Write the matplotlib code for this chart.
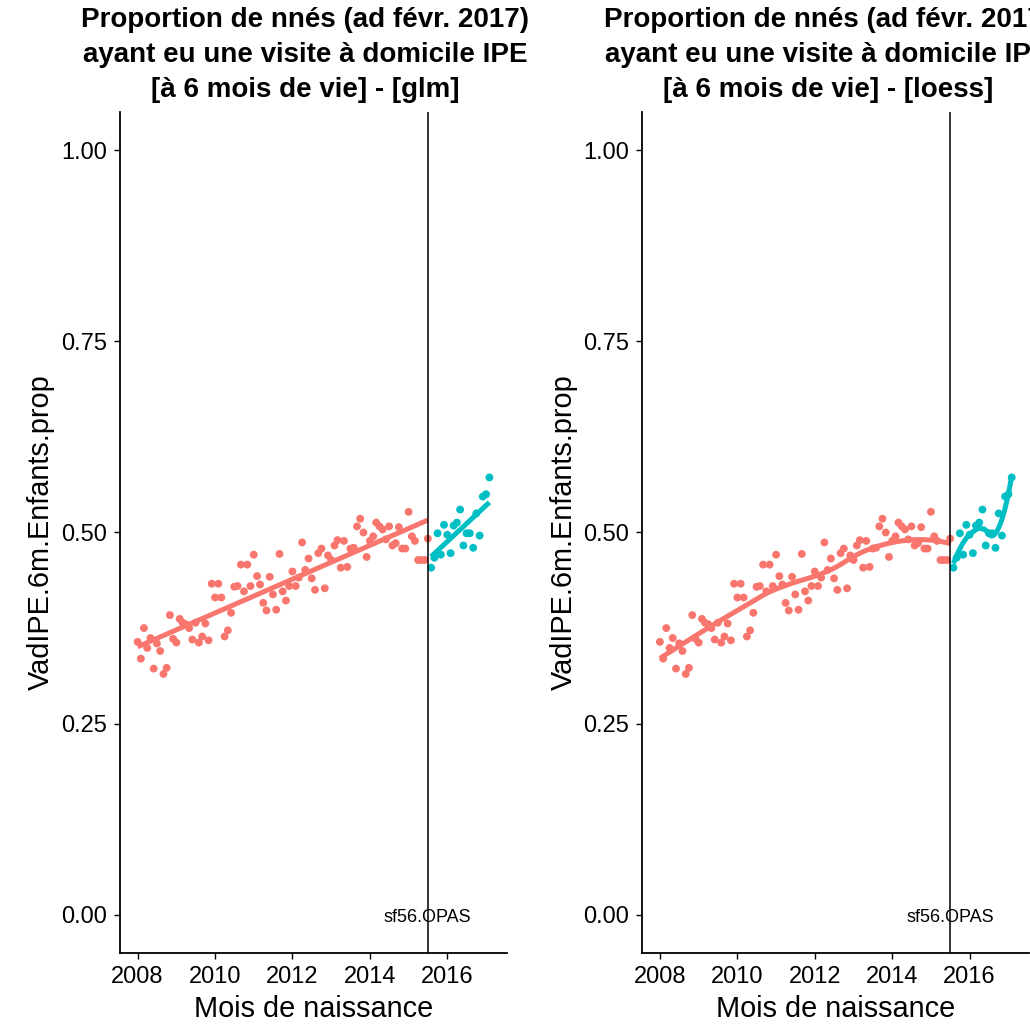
import numpy as np
import pandas as pd
import matplotlib
matplotlib.use('Agg')
import matplotlib.pyplot as plt
import matplotlib.dates as mdates

plt.rcParams['font.family'] = ['Liberation Sans', 'DejaVu Sans']

# proportions mensuelles, avant / après la coupure
avant = [0.357, 0.335, 0.375, 0.349, 0.362, 0.322, 0.355, 0.345, 0.315, 0.323,
         0.392, 0.361, 0.356, 0.387, 0.382, 0.380, 0.375, 0.360, 0.382, 0.356,
         0.364, 0.381, 0.359, 0.433, 0.415, 0.433, 0.415, 0.364, 0.372, 0.395,
         0.429, 0.430, 0.458, 0.423, 0.458, 0.430, 0.471, 0.443, 0.432, 0.408,
         0.398, 0.442, 0.419, 0.399, 0.472, 0.423, 0.411, 0.430, 0.449, 0.430,
         0.441, 0.487, 0.451, 0.466, 0.440, 0.425, 0.473, 0.479, 0.427, 0.470,
         0.464, 0.483, 0.490, 0.454, 0.489, 0.455, 0.479, 0.480, 0.508, 0.518,
         0.500, 0.468, 0.489, 0.495, 0.513, 0.508, 0.504, 0.491, 0.508, 0.483,
         0.486, 0.507, 0.479, 0.479, 0.527, 0.495, 0.489, 0.464, 0.464, 0.464,
         0.492]
apres = [0.454, 0.467, 0.499, 0.471, 0.510, 0.497, 0.473, 0.509, 0.513, 0.530,
         0.483, 0.499, 0.499, 0.480, 0.525, 0.496, 0.547, 0.550, 0.572]

mois_avant = pd.date_range('2008-01-01', periods=len(avant), freq='MS')
mois_apres = pd.date_range('2015-08-01', periods=len(apres), freq='MS')
coupure = pd.Timestamp('2015-07-01')

titres = ["Proportion de nnés (ad févr. 2017)\nayant eu une visite à domicile IPE\n[à 6 mois de vie] - [glm]",
          "Proportion de nnés (ad févr. 2017)\nayant eu une visite à domicile IPE\n[à 6 mois de vie] - [loess]"]
methodes = ['glm', 'loess']

ROUGE = '#F8766D'
CYAN = '#00BFC4'


def loess(x, y, xs, span=0.75):
    x = np.asarray(x, float)
    y = np.asarray(y, float)
    q = int(np.floor(len(x) * span))
    out = []
    for x0 in xs:
        d = np.abs(x - x0)
        h = np.sort(d)[q - 1]
        w = np.clip(1 - (d / h) ** 3, 0, None) ** 3
        c = np.polyfit(x - x0, y, 2, w=np.sqrt(w))
        out.append(np.polyval(c, 0))
    return np.array(out)


def lissage(dates, vals, methode):
    x = mdates.date2num(dates)
    xs = np.linspace(x[0], x[-1], 80)
    if methode == 'glm':
        ys = np.polyval(np.polyfit(x, vals, 1), xs)
    else:
        ys = loess(x, vals, xs, span=0.75)
    return mdates.num2date(xs), ys


fig = plt.figure(figsize=(10.30, 10.27), dpi=100)
positions = [[0.1165, 0.072, 0.3757, 0.819], [0.6236, 0.072, 0.3757, 0.819]]

x0 = mdates.date2num(mois_avant[0])
x1 = mdates.date2num(mois_apres[-1])
marge = 0.05 * (x1 - x0)

for pos, titre, methode in zip(positions, titres, methodes):
    ax = fig.add_axes(pos)
    for dates, vals, col in [(mois_avant, avant, ROUGE), (mois_apres, apres, CYAN)]:
        ax.scatter(dates, vals, s=32, color=col, edgecolors='none', zorder=2)
        xs, ys = lissage(dates, vals, methode)
        ax.plot(xs, ys, color=col, lw=3.6, zorder=3, solid_capstyle='butt')
    ax.axvline(coupure, color='black', lw=1.1, zorder=4)
    ax.text(coupure, -0.004, 'sf56.OPAS', ha='center', va='center', fontsize=13, zorder=5)

    ax.set_xlim(x0 - marge, x1 + marge)
    ax.set_ylim(-0.05, 1.05)
    ax.set_yticks([0, 0.25, 0.5, 0.75, 1.0])
    ax.set_yticklabels(['0.00', '0.25', '0.50', '0.75', '1.00'])
    ax.xaxis.set_major_locator(mdates.YearLocator(2))
    ax.xaxis.set_major_formatter(mdates.DateFormatter('%Y'))
    ax.tick_params(labelsize=17, length=4.5, width=1, colors='black', pad=5)
    for s in ['top', 'right']:
        ax.spines[s].set_visible(False)
    for s in ['left', 'bottom']:
        ax.spines[s].set_linewidth(1.3)
    ax.set_xlabel('Mois de naissance', fontsize=20.8, labelpad=5)
    ax.set_ylabel('VadIPE.6m.Enfants.prop', fontsize=20.8, labelpad=4)
    ax.set_title(titre, fontsize=20, fontweight='bold', x=0.479, pad=11, linespacing=1.45)

fig.savefig('out.png', dpi=100)
